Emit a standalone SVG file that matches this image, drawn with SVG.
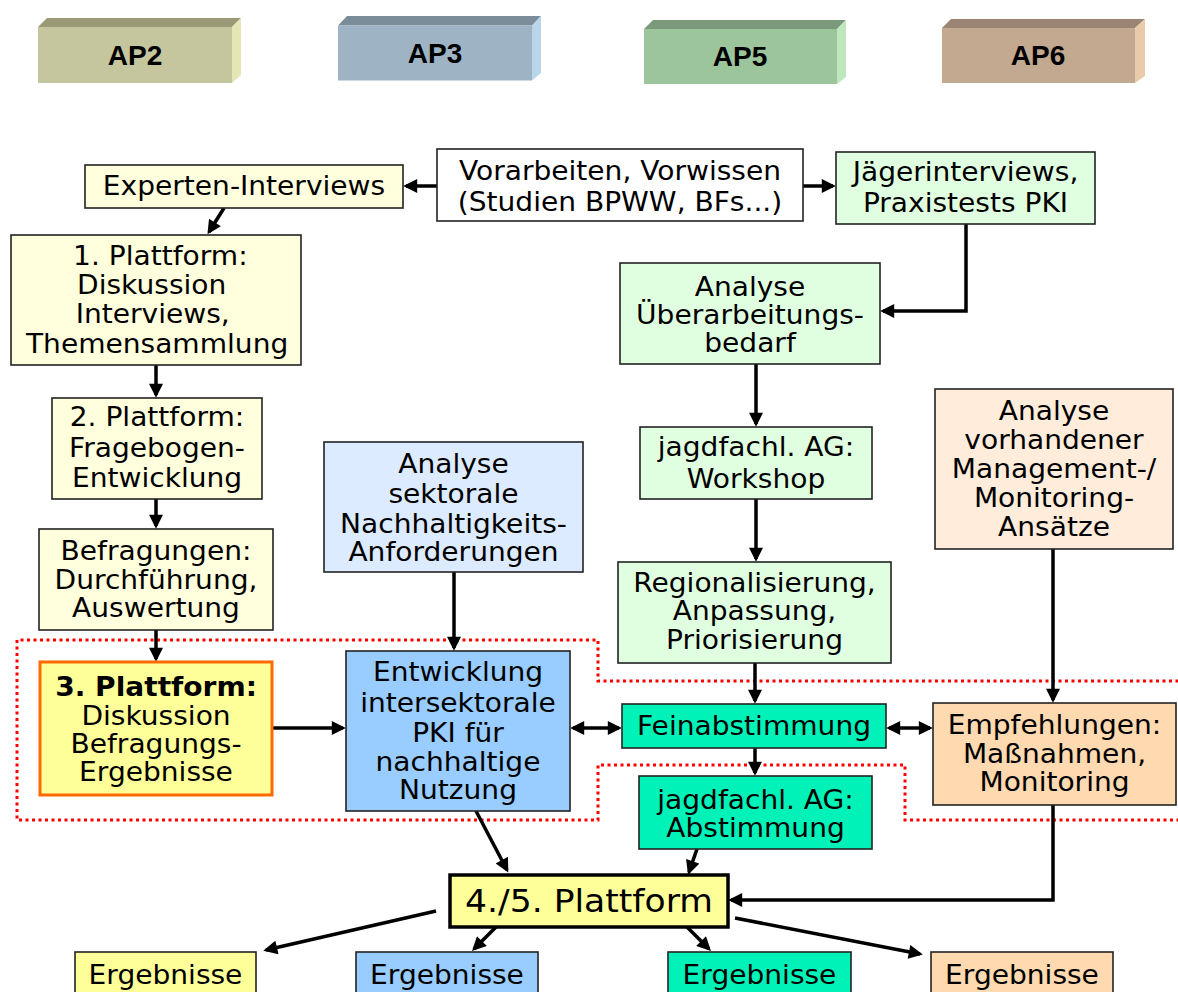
<svg xmlns="http://www.w3.org/2000/svg" width="1178" height="992" viewBox="0 0 1178 992">
  <style>
    .t { font-family: "DejaVu Sans", Verdana, sans-serif; font-size: 26px; text-anchor: middle; fill: #000; }
    .tb { font-weight: bold; }
    .big { font-size: 32px; }
    .hd { font-family: "Liberation Sans", Arial, sans-serif; font-size: 28px; font-weight: bold; text-anchor: middle; fill: #000; }
    .box { stroke: #222; stroke-width: 1.6; }
    .yl { fill: #ffffdd; }
    .gl { fill: #e0ffe0; }
    .wh { fill: #ffffff; }
    .bl { fill: #dcebff; }
    .pl { fill: #ffecda; }
    .y2 { fill: #ffff99; }
    .b2 { fill: #99ccff; }
    .tq { fill: #00f2b8; }
    .pc { fill: #ffd9b0; }
    .conn path { fill: none; stroke: #000; stroke-width: 3.5; }
    .zone { fill: none; stroke: #ff0000; stroke-width: 3; stroke-dasharray: 3 3.5; }
  </style>
  <defs>
    <marker id="ah" viewBox="0 0 10 10" refX="8" refY="5" markerWidth="15" markerHeight="14" markerUnits="userSpaceOnUse" orient="auto-start-reverse">
      <path d="M0,0 L10,5 L0,10 z" fill="#000"/>
    </marker>
  </defs>

  <rect width="1178" height="992" fill="#fff"/>

  <!-- work package headers (3D bars) -->
  <g id="hdr-ap2">
    <polygon points="38,27 47,18 241,18 232,27" fill="#9a9a76"/>
    <polygon points="232,27 241,18 241,75 232,83" fill="#e5e5b5"/>
    <rect x="38" y="27" width="194" height="56" fill="#c5c69e"/>
    <text class="hd" x="135" y="65">AP2</text>
  </g>
  <g id="hdr-ap3">
    <polygon points="338,25.5 347,16 541,16 532,25.5" fill="#7b8d99"/>
    <polygon points="532,25.5 541,16 541,73 532,80.5" fill="#b9d5ea"/>
    <rect x="338" y="25.5" width="194" height="55" fill="#9eb4c4"/>
    <text class="hd" x="435" y="63">AP3</text>
  </g>
  <g id="hdr-ap5">
    <polygon points="644,29 653,20 846,20 837,29" fill="#7b9a7b"/>
    <polygon points="837,29 846,20 846,77 837,84" fill="#bde8bd"/>
    <rect x="644" y="29" width="193" height="55" fill="#9cc59c"/>
    <text class="hd" x="740" y="66">AP5</text>
  </g>
  <g id="hdr-ap6">
    <polygon points="942,28 951,19 1145,19 1135,28" fill="#9a8472"/>
    <polygon points="1135,28 1145,19 1145,76 1135,83" fill="#e9cbac"/>
    <rect x="942" y="28" width="193" height="55" fill="#c4a991"/>
    <text class="hd" x="1038" y="65">AP6</text>
  </g>

  <!-- dotted boundary of the synthesis phase -->
  <path class="zone" d="M1185,681 H598 V640 H17 V820 H598 V765 H905 V820 H1185"/>

  <!-- connectors -->
  <g id="connectors" class="conn">
    <path d="M437,186 H406" marker-end="url(#ah)"/>
    <path d="M803,186 H833" marker-end="url(#ah)"/>
    <path d="M224,208 L209,232" marker-end="url(#ah)"/>
    <path d="M966,224 V311 H883" marker-end="url(#ah)"/>
    <path d="M156,365 V395" marker-end="url(#ah)"/>
    <path d="M156,499 V526" marker-end="url(#ah)"/>
    <path d="M156,630 V659" marker-end="url(#ah)"/>
    <path d="M756,364 V424" marker-end="url(#ah)"/>
    <path d="M756,499 V559" marker-end="url(#ah)"/>
    <path d="M454,572 V648" marker-end="url(#ah)"/>
    <path d="M1053,549 V700" marker-end="url(#ah)"/>
    <path d="M755,663 V701" marker-end="url(#ah)"/>
    <path d="M272,728 H343" marker-end="url(#ah)"/>
    <path d="M573,728 H619" marker-start="url(#ah)" marker-end="url(#ah)"/>
    <path d="M889,728 H930" marker-start="url(#ah)" marker-end="url(#ah)"/>
    <path d="M755,748 V773" marker-end="url(#ah)"/>
    <path d="M476,811 L507,870" marker-end="url(#ah)"/>
    <path d="M697,849 L689,872" marker-end="url(#ah)"/>
    <path d="M1053,805 V900 H731" marker-end="url(#ah)"/>
    <path d="M436,911 L266,950" marker-end="url(#ah)"/>
    <path d="M496,927 L474,949" marker-end="url(#ah)"/>
    <path d="M687,927 L709,949" marker-end="url(#ah)"/>
    <path d="M735,918 L920,954" marker-end="url(#ah)"/>
  </g>

  <!-- nodes -->
  <g id="n-vorarbeiten">
    <rect class="box wh" x="437" y="149" width="366" height="72"/>
    <g transform="translate(620,0) scale(1.08,1)">
      <text class="t" y="180">Vorarbeiten, Vorwissen</text>
      <text class="t" y="211">(Studien BPWW, BFs...)</text>
    </g>
  </g>
  <g id="n-experten">
    <rect class="box yl" x="85" y="165" width="318" height="43"/>
    <g transform="translate(244,0) scale(1.08,1)">
      <text class="t" y="195">Experten-Interviews</text>
    </g>
  </g>
  <g id="n-jaeger">
    <rect class="box gl" x="836" y="152" width="259" height="72"/>
    <g transform="translate(965.5,0) scale(1.08,1)">
      <text class="t" y="181">Jägerinterviews,</text>
      <text class="t" y="212">Praxistests PKI</text>
    </g>
  </g>
  <g id="n-plattform1">
    <rect class="box yl" x="11" y="235" width="290" height="130"/>
    <g transform="translate(156,0) scale(1.08,1)">
      <text class="t" x="4" y="265">1. Plattform:</text>
      <text class="t" x="-4" y="294">Diskussion</text>
      <text class="t" x="-3" y="323">Interviews,</text>
      <text class="t" x="1" y="353">Themensammlung</text>
    </g>
  </g>
  <g id="n-analyse-bedarf">
    <rect class="box gl" x="620" y="263" width="260" height="101"/>
    <g transform="translate(750,0) scale(1.08,1)">
      <text class="t" y="296">Analyse</text>
      <text class="t" y="324">Überarbeitungs-</text>
      <text class="t" y="352">bedarf</text>
    </g>
  </g>
  <g id="n-plattform2">
    <rect class="box yl" x="52" y="398" width="210" height="101"/>
    <g transform="translate(157,0) scale(1.08,1)">
      <text class="t" y="426">2. Plattform:</text>
      <text class="t" y="457">Fragebogen-</text>
      <text class="t" y="487">Entwicklung</text>
    </g>
  </g>
  <g id="n-workshop">
    <rect class="box gl" x="640" y="427" width="232" height="72"/>
    <g transform="translate(756,0) scale(1.08,1)">
      <text class="t" y="456">jagdfachl. AG:</text>
      <text class="t" y="488">Workshop</text>
    </g>
  </g>
  <g id="n-analyse-management">
    <rect class="box pl" x="935" y="389" width="238" height="160"/>
    <g transform="translate(1054,0) scale(1.08,1)">
      <text class="t" y="420">Analyse</text>
      <text class="t" y="449">vorhandener</text>
      <text class="t" y="478">Management-/</text>
      <text class="t" y="507">Monitoring-</text>
      <text class="t" y="536">Ansätze</text>
    </g>
  </g>
  <g id="n-analyse-sektoral">
    <rect class="box bl" x="324" y="442" width="259" height="130"/>
    <g transform="translate(453.5,0) scale(1.08,1)">
      <text class="t" y="473">Analyse</text>
      <text class="t" y="503">sektorale</text>
      <text class="t" y="533">Nachhaltigkeits-</text>
      <text class="t" y="561">Anforderungen</text>
    </g>
  </g>
  <g id="n-befragungen">
    <rect class="box yl" x="39" y="529" width="234" height="101"/>
    <g transform="translate(156,0) scale(1.08,1)">
      <text class="t" y="560">Befragungen:</text>
      <text class="t" y="589">Durchführung,</text>
      <text class="t" y="617">Auswertung</text>
    </g>
  </g>
  <g id="n-regionalisierung">
    <rect class="box gl" x="618" y="562" width="273" height="101"/>
    <g transform="translate(754.5,0) scale(1.08,1)">
      <text class="t" y="592">Regionalisierung,</text>
      <text class="t" y="620">Anpassung,</text>
      <text class="t" y="649">Priorisierung</text>
    </g>
  </g>
  <g id="n-plattform3">
    <rect x="40" y="662" width="232" height="133" fill="#ffff99" stroke="#ff6a00" stroke-width="3"/>
    <g transform="translate(156,0) scale(1.08,1)">
      <text class="t tb" y="696">3. Plattform:</text>
      <text class="t" y="725">Diskussion</text>
      <text class="t" y="753">Befragungs-</text>
      <text class="t" y="781">Ergebnisse</text>
    </g>
  </g>
  <g id="n-entwicklung">
    <rect class="box b2" x="346" y="651" width="224" height="160"/>
    <g transform="translate(458,0) scale(1.08,1)">
      <text class="t" y="681">Entwicklung</text>
      <text class="t" y="712">intersektorale</text>
      <text class="t" y="742">PKI für</text>
      <text class="t" y="771">nachhaltige</text>
      <text class="t" y="799">Nutzung</text>
    </g>
  </g>
  <g id="n-feinabstimmung">
    <rect class="box tq" x="622" y="704" width="264" height="44"/>
    <g transform="translate(754,0) scale(1.08,1)">
      <text class="t" y="735">Feinabstimmung</text>
    </g>
  </g>
  <g id="n-empfehlungen">
    <rect class="box pc" x="933" y="703" width="243" height="102"/>
    <g transform="translate(1054.5,0) scale(1.08,1)">
      <text class="t" y="734">Empfehlungen:</text>
      <text class="t" y="763">Maßnahmen,</text>
      <text class="t" y="791">Monitoring</text>
    </g>
  </g>
  <g id="n-abstimmung">
    <rect class="box tq" x="639" y="776" width="233" height="73"/>
    <g transform="translate(755.5,0) scale(1.08,1)">
      <text class="t" y="809">jagdfachl. AG:</text>
      <text class="t" y="837">Abstimmung</text>
    </g>
  </g>
  <g id="n-plattform45">
    <rect x="450" y="875" width="278" height="52" fill="#ffff99" stroke="#000" stroke-width="3.5"/>
    <g transform="translate(589,0) scale(1.08,1)">
      <text class="t big" y="912">4./5. Plattform</text>
    </g>
  </g>
  <g id="n-erg-ap2">
    <rect class="box y2" x="75" y="952" width="181" height="50"/>
    <g transform="translate(165.5,0) scale(1.08,1)">
      <text class="t" y="984">Ergebnisse</text>
    </g>
  </g>
  <g id="n-erg-ap3">
    <rect class="box b2" x="356" y="952" width="182" height="50"/>
    <g transform="translate(447,0) scale(1.08,1)">
      <text class="t" y="984">Ergebnisse</text>
    </g>
  </g>
  <g id="n-erg-ap5">
    <rect class="box tq" x="668" y="952" width="183" height="50"/>
    <g transform="translate(759.5,0) scale(1.08,1)">
      <text class="t" y="984">Ergebnisse</text>
    </g>
  </g>
  <g id="n-erg-ap6">
    <rect class="box pc" x="931" y="952" width="182" height="50"/>
    <g transform="translate(1022,0) scale(1.08,1)">
      <text class="t" y="984">Ergebnisse</text>
    </g>
  </g>
</svg>
